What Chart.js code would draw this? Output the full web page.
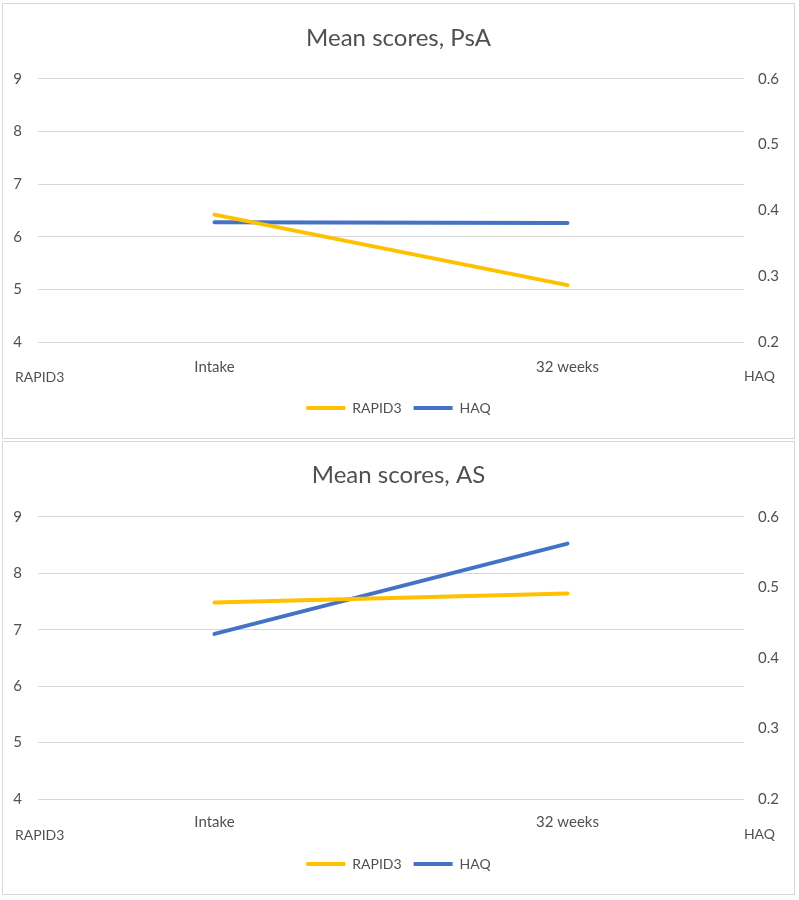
<!DOCTYPE html>
<html>
<head>
<meta charset="utf-8">
<script src="https://cdn.jsdelivr.net/npm/chart.js@4.4.1/dist/chart.umd.min.js"></script>
<style>
  html, body { margin: 0; padding: 0; background: #ffffff; }
  .box { position: absolute; left: 2px; width: 791px; border: 1px solid #d9d9d9; background: #fff; }
  #box1 { top: 3px; height: 434px; }
  #box2 { top: 441px; height: 452px; }
  canvas { display: block; }
</style>
</head>
<body>
<div class="box" id="box1"><canvas id="c1" width="791" height="434"></canvas></div>
<div class="box" id="box2"><canvas id="c2" width="791" height="452"></canvas></div>
<script>
const categories = ["Intake", "32 weeks"];
const seriesNames = ["RAPID3", "HAQ"];
const psaRapid3 = [6.42, 5.08];
const psaHaq = [0.382, 0.381];
const asRapid3 = [7.48, 7.64];
const asHaq = [0.434, 0.562];
const leftTicks = { min: 4, max: 9, step: 1 };
const rightTicks = { min: 0.2, max: 0.6, step: 0.1 };
const titles = ["Mean scores, PsA", "Mean scores, AS"];
const leftAxisName = "RAPID3";
const rightAxisName = "HAQ";

const YELLOW = "#FFC000";
const BLUE = "#4472C4";
const TEXT = "#505050";
const GRID = "#d9d9d9";
const FONT = "Lato";

const axisNamesPlugin = {
  id: "axisNames",
  afterDraw(chart, args, opts) {
    const ctx = chart.ctx;
    const a = chart.chartArea;
    ctx.save();
    ctx.fillStyle = TEXT;
    ctx.font = "14px " + FONT;
    ctx.textBaseline = "middle";
    ctx.textAlign = "left";
    ctx.fillText(leftAxisName, 12, a.bottom + opts.dy);
    ctx.textAlign = "right";
    ctx.fillText(rightAxisName, 772, a.bottom + opts.dy - 1);
    ctx.restore();
  }
};

function makeChart(id, title, rapid, haq, cfg) {
  return new Chart(document.getElementById(id), {
    type: "line",
    data: {
      labels: categories,
      datasets: [
        { label: seriesNames[0], data: rapid, yAxisID: "y", borderColor: YELLOW, backgroundColor: YELLOW,
          borderWidth: 4, pointRadius: 0, borderCapStyle: "round", tension: 0 },
        { label: seriesNames[1], data: haq, yAxisID: "y1", borderColor: BLUE, backgroundColor: BLUE,
          borderWidth: 4, pointRadius: 0, borderCapStyle: "round", tension: 0 }
      ]
    },
    options: {
      responsive: false,
      animation: false,
      devicePixelRatio: 1,
      layout: { padding: { top: 0, bottom: cfg.padBottom, left: 0, right: 0 } },
      plugins: {
        tooltip: { enabled: false },
        title: {
          display: true, text: title, color: TEXT,
          font: { family: FONT, size: 24, weight: "normal" },
          padding: { top: cfg.titleTop, bottom: cfg.titleBottom }
        },
        legend: {
          position: "bottom",
          labels: {
            color: TEXT, font: { family: FONT, size: 14 }, boxWidth: 39, boxHeight: 4, padding: 12,
            generateLabels(chart) {
              const items = Chart.defaults.plugins.legend.labels.generateLabels(chart);
              items.forEach(it => { it.lineWidth = 0; it.fillStyle = it.strokeStyle; });
              return items;
            }
          }
        },
        axisNames: { dy: cfg.nameDy }
      },
      scales: {
        x: {
          offset: true,
          grid: { display: false, drawTicks: false },
          border: { display: false },
          ticks: { color: TEXT, font: { family: FONT, size: 15 }, padding: cfg.xPad, maxRotation: 0 },
          afterFit(s) { s.height = cfg.xHeight; }
        },
        y: {
          position: "left",
          min: leftTicks.min, max: leftTicks.max,
          grid: { color: GRID, lineWidth: 1, drawTicks: false },
          border: { display: false },
          ticks: { stepSize: leftTicks.step, color: TEXT, font: { family: FONT, size: 15 }, padding: 16 },
          afterFit(s) { s.width = 35; }
        },
        y1: {
          position: "right",
          min: rightTicks.min, max: rightTicks.max,
          grid: { display: false, drawTicks: false },
          border: { display: false },
          ticks: { stepSize: rightTicks.step, color: TEXT, font: { family: FONT, size: 15 }, padding: 14,
                   callback: v => Number(v).toFixed(1) },
          afterFit(s) { s.width = 50; }
        }
      }
    },
    plugins: [axisNamesPlugin]
  });
}

makeChart("c1", titles[0], psaRapid3, psaHaq,
  { titleTop: 20, titleBottom: 26, padBottom: 13, xHeight: 47, xPad: 16, nameDy: 35 });
makeChart("c2", titles[1], asRapid3, asHaq,
  { titleTop: 19, titleBottom: 27, padBottom: 13, xHeight: 46, xPad: 14, nameDy: 36 });
</script>
</body>
</html>
